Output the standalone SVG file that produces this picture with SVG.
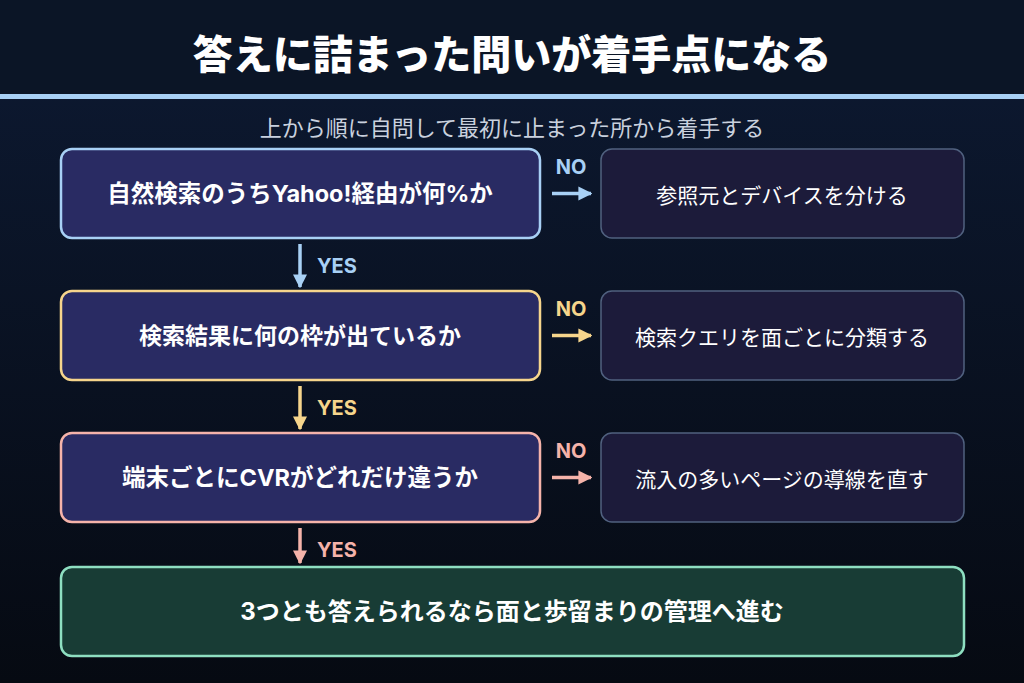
<svg xmlns="http://www.w3.org/2000/svg" width="1024" height="683" viewBox="0 0 1024 683">
<defs>
<linearGradient id="bg" x1="0" y1="0" x2="0" y2="1">
<stop offset="0" stop-color="#0d1a33"/>
<stop offset="1" stop-color="#060a12"/>
</linearGradient>
<marker id="hBlue" viewBox="0 0 10 10" refX="9" refY="5" markerWidth="4" markerHeight="4.4" orient="auto" markerUnits="strokeWidth"><path d="M0,0 L10,5 L0,10 z" fill="#a8d0f5"/></marker>
<marker id="hYel" viewBox="0 0 10 10" refX="9" refY="5" markerWidth="4" markerHeight="4.4" orient="auto" markerUnits="strokeWidth"><path d="M0,0 L10,5 L0,10 z" fill="#f6d58c"/></marker>
<marker id="hPink" viewBox="0 0 10 10" refX="9" refY="5" markerWidth="4" markerHeight="4.4" orient="auto" markerUnits="strokeWidth"><path d="M0,0 L10,5 L0,10 z" fill="#f5b3aa"/></marker>
<style>
.f{font-family:"Noto Sans CJK JP","Noto Sans",sans-serif}
.fi{font-family:Inter,"Noto Sans CJK JP",sans-serif}
.title{font-size:40px;font-weight:900;fill:#ffffff}
.sub{font-size:22px;fill:#c9d1de}
.q{fill:#292b63;stroke-width:2.5}
.qt{font-size:23px;font-weight:700;fill:#ffffff}
.a{fill:#1c1b3a;stroke:#50617f;stroke-width:1.5}
.at{font-size:21px;fill:#ffffff}
.lbl{font-size:20px;font-weight:700}
.ln{fill:none;stroke-width:3.5}
</style>
</defs>
<rect x="0" y="0" width="1024" height="683" fill="url(#bg)"/>
<rect x="0" y="0" width="1024" height="94" fill="#0b1526"/>
<rect x="0" y="94" width="1024" height="5" fill="#a8d0f5"/>
<text class="f title" x="512" y="52" text-anchor="middle" dominant-baseline="central">答えに詰まった問いが着手点になる</text>
<text class="f sub" x="512" y="126" text-anchor="middle" dominant-baseline="central">上から順に自問して最初に止まった所から着手する</text>

<g id="q1">
<rect class="q" x="61" y="149" width="479" height="89" rx="11" stroke="#a8d0f5"/>
<text class="fi qt" x="300" y="193.5" text-anchor="middle" dominant-baseline="central" style="font-size:23.5px">自然検索のうちYahoo!経由が何%か</text>
</g>
<g id="a1">
<rect class="a" x="601" y="149" width="363" height="89" rx="11"/>
<text class="f at" x="782" y="193.5" text-anchor="middle" dominant-baseline="central">参照元とデバイスを分ける</text>
</g>
<g id="q2">
<rect class="q" x="61" y="291" width="479" height="89" rx="11" stroke="#f6d58c"/>
<text class="fi qt" x="300" y="335.5" text-anchor="middle" dominant-baseline="central">検索結果に何の枠が出ているか</text>
</g>
<g id="a2">
<rect class="a" x="601" y="291" width="363" height="89" rx="11"/>
<text class="f at" x="782" y="335.5" text-anchor="middle" dominant-baseline="central">検索クエリを面ごとに分類する</text>
</g>
<g id="q3">
<rect class="q" x="61" y="433" width="479" height="89" rx="11" stroke="#f5b3aa"/>
<text class="fi qt" x="300" y="477.5" text-anchor="middle" dominant-baseline="central" style="font-size:23.5px">端末ごとにCVRがどれだけ違うか</text>
</g>
<g id="a3">
<rect class="a" x="601" y="433" width="363" height="89" rx="11"/>
<text class="f at" x="782" y="477.5" text-anchor="middle" dominant-baseline="central">流入の多いページの導線を直す</text>
</g>
<g id="goal">
<rect x="61" y="567" width="903" height="89" rx="11" fill="#183c35" stroke="#8edfc1" stroke-width="2.5"/>
<text class="fi qt" x="512" y="611.5" text-anchor="middle" dominant-baseline="central" style="font-size:24px">3つとも答えられるなら面と歩留まりの管理へ進む</text>
</g>

<g id="connectors">
<line class="ln" x1="552" y1="193.5" x2="591" y2="193.5" stroke="#a8d0f5" marker-end="url(#hBlue)"/>
<text class="fi lbl" x="571" y="167" text-anchor="middle" dominant-baseline="central" fill="#a8d0f5">NO</text>
<line class="ln" x1="300" y1="244" x2="300" y2="287" stroke="#a8d0f5" marker-end="url(#hBlue)"/>
<text class="fi lbl" x="317" y="266" dominant-baseline="central" fill="#a8d0f5">YES</text>

<line class="ln" x1="552" y1="335.5" x2="591" y2="335.5" stroke="#f6d58c" marker-end="url(#hYel)"/>
<text class="fi lbl" x="571" y="309" text-anchor="middle" dominant-baseline="central" fill="#f6d58c">NO</text>
<line class="ln" x1="300" y1="386" x2="300" y2="429" stroke="#f6d58c" marker-end="url(#hYel)"/>
<text class="fi lbl" x="317" y="408" dominant-baseline="central" fill="#f6d58c">YES</text>

<line class="ln" x1="552" y1="477.5" x2="591" y2="477.5" stroke="#f5b3aa" marker-end="url(#hPink)"/>
<text class="fi lbl" x="571" y="451" text-anchor="middle" dominant-baseline="central" fill="#f5b3aa">NO</text>
<line class="ln" x1="300" y1="528" x2="300" y2="563" stroke="#f5b3aa" marker-end="url(#hPink)"/>
<text class="fi lbl" x="317" y="550" dominant-baseline="central" fill="#f5b3aa">YES</text>
</g>
</svg>
